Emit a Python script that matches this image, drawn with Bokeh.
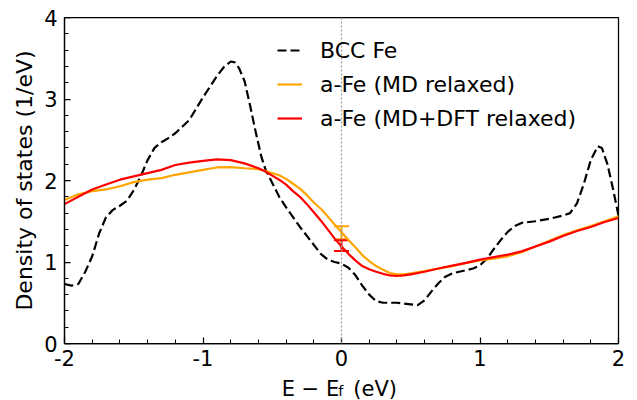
from bokeh.plotting import figure
from bokeh.layouts import column
from bokeh.models import (Range1d, FixedTicker, Span, Whisker, TeeHead,
                          ColumnDataSource, Legend, LegendItem)
from bokeh.core.properties import value
from bokeh.embed import file_html
from bokeh.resources import INLINE

# ---- data ----
bcc_x = [-2.0, -1.95, -1.90, -1.85, -1.80, -1.75, -1.70, -1.65, -1.60, -1.55, -1.50, -1.45,
         -1.40, -1.35, -1.30, -1.25, -1.20, -1.15, -1.10, -1.05, -1.00, -0.95, -0.90, -0.85,
         -0.80, -0.77, -0.74, -0.70, -0.66, -0.62, -0.58, -0.55, -0.50, -0.45, -0.40, -0.35,
         -0.30, -0.25, -0.20, -0.15, -0.10, -0.05, 0.00, 0.05, 0.10, 0.15, 0.20, 0.25, 0.30,
         0.40, 0.50, 0.55, 0.60, 0.65, 0.70, 0.75, 0.80, 0.90, 0.95, 1.00, 1.05, 1.10, 1.15,
         1.20, 1.25, 1.30, 1.40, 1.50, 1.60, 1.65, 1.70, 1.75, 1.80, 1.85, 1.88, 1.92, 1.96, 2.00]
bcc_y = [0.73, 0.71, 0.73, 0.88, 1.07, 1.35, 1.55, 1.64, 1.69, 1.75, 1.88, 2.05,
         2.25, 2.40, 2.47, 2.52, 2.58, 2.66, 2.74, 2.88, 3.02, 3.15, 3.28, 3.39,
         3.46, 3.45, 3.38, 3.22, 2.92, 2.60, 2.30, 2.14, 1.97, 1.80, 1.67, 1.55,
         1.43, 1.32, 1.21, 1.10, 1.03, 1.00, 0.98, 0.93, 0.84, 0.71, 0.60, 0.52, 0.50,
         0.50, 0.48, 0.47, 0.53, 0.64, 0.74, 0.82, 0.86, 0.90, 0.92, 0.96, 1.04, 1.16, 1.27,
         1.37, 1.44, 1.48, 1.50, 1.53, 1.57, 1.60, 1.72, 1.96, 2.25, 2.42, 2.40, 2.20, 1.90, 1.57]

amo_x = [-2.0, -1.9, -1.8, -1.7, -1.6, -1.5, -1.4, -1.3, -1.2, -1.1, -1.0, -0.9, -0.8, -0.7,
         -0.6, -0.55, -0.5, -0.45, -0.4, -0.35, -0.3, -0.25, -0.2, -0.15, -0.1, -0.05, 0.0,
         0.05, 0.1, 0.15, 0.2, 0.25, 0.3, 0.35, 0.4, 0.45, 0.5,
         0.6, 0.7, 0.8, 0.9, 1.0, 1.1, 1.2, 1.3, 1.4, 1.5, 1.6, 1.7, 1.8, 1.9, 2.0]
md_y = [1.76, 1.83, 1.87, 1.89, 1.93, 1.98, 2.01, 2.03, 2.07, 2.10, 2.13, 2.16, 2.165, 2.15,
        2.14, 2.12, 2.09, 2.065, 2.02, 1.96, 1.90, 1.82, 1.73, 1.653, 1.56, 1.46, 1.365,
        1.27, 1.18, 1.085, 1.01, 0.95, 0.905, 0.865, 0.848, 0.85, 0.86,
        0.89, 0.92, 0.95, 0.99, 1.02, 1.04, 1.07, 1.12, 1.19, 1.26, 1.33, 1.39, 1.44, 1.50, 1.56]
dft_y = [1.71, 1.80, 1.89, 1.95, 2.01, 2.05, 2.09, 2.13, 2.19, 2.22, 2.24, 2.26, 2.25, 2.21,
         2.15, 2.11, 2.06, 2.01, 1.95, 1.87, 1.80, 1.71, 1.61, 1.51, 1.40, 1.29, 1.19,
         1.10, 1.02, 0.95, 0.91, 0.88, 0.855, 0.835, 0.828, 0.835, 0.848,
         0.88, 0.92, 0.955, 0.99, 1.03, 1.06, 1.09, 1.13, 1.19, 1.25, 1.32, 1.38, 1.43, 1.49, 1.54]

err_x = [0.0]
md_err_center = [1.358]
md_err = [0.08]
dft_err_center = [1.20]
dft_err = [0.066]

x_ticks = [-2, -1, 0, 1, 2]
x_tick_labels = ["-2", "-1", "0", "1", "2"]
y_ticks = [0, 1, 2, 3, 4]
y_tick_labels = ["0", "1", "2", "3", "4"]
x_minor = [round(-2 + 0.2 * i, 2) for i in range(21)]
y_minor = [round(0.2 * i, 2) for i in range(21)]

series_names = ["BCC Fe", "a-Fe (MD relaxed)", "a-Fe (MD+DFT relaxed)"]
y_label = "Density of states (1/eV)"
x_label_parts = ["E \u2212 E", "f", "(eV)"]

FONT = "DejaVu Sans"
BORDERS = dict(min_border_left=64, min_border_right=19)

p = figure(width=637, height=375, output_backend="svg", toolbar_location=None,
           x_range=Range1d(-2, 2), y_range=Range1d(0, 4),
           min_border_top=17, min_border_bottom=32, **BORDERS)
p.background_fill_color = "white"
p.border_fill_color = "white"
p.xgrid.visible = False
p.ygrid.visible = False
p.outline_line_color = "black"
p.outline_line_width = 1.25

for ax, ticks, labels, minor in ((p.xaxis[0], x_ticks, x_tick_labels, x_minor),
                                 (p.yaxis[0], y_ticks, y_tick_labels, y_minor)):
    ax.ticker = FixedTicker(ticks=ticks, minor_ticks=minor)
    ax.major_label_overrides = {t: l for t, l in zip(ticks, labels)}
    ax.major_tick_in = 6
    ax.major_tick_out = 0
    ax.minor_tick_in = 4
    ax.minor_tick_out = 0
    ax.major_tick_line_width = 1.25
    ax.minor_tick_line_width = 1
    ax.axis_line_width = 1.25
    ax.major_label_text_font = FONT
    ax.major_label_text_font_size = "21px"
    ax.major_label_text_color = "black"
    ax.axis_line_color = "black"
    ax.major_tick_line_color = "black"
    ax.minor_tick_line_color = "black"
p.xaxis.major_label_standoff = 6
p.yaxis.major_label_standoff = 7
p.yaxis.axis_label = y_label
p.yaxis.axis_label_text_font = FONT
p.yaxis.axis_label_text_font_size = "22px"
p.yaxis.axis_label_text_font_style = "normal"
p.yaxis.axis_label_text_color = "black"
p.yaxis.axis_label_standoff = 4

# dotted Fermi level
p.add_layout(Span(location=0, dimension="height", line_color="#999999",
                  line_width=1.2, line_dash="2 2"))

r_bcc = p.line(bcc_x, bcc_y, line_color="black", line_width=2.2, line_dash="9 4")
r_md = p.line(amo_x, md_y, line_color="#FFA500", line_width=2.2)
r_dft = p.line(amo_x, dft_y, line_color="#FF0000", line_width=2.2)

for cen, err, col in ((md_err_center, md_err, "#FFA500"), (dft_err_center, dft_err, "#FF0000")):
    src = ColumnDataSource(dict(x=err_x,
                                lower=[c - e for c, e in zip(cen, err)],
                                upper=[c + e for c, e in zip(cen, err)]))
    w = Whisker(source=src, base="x", lower="lower", upper="upper",
                line_color=col, line_width=2,
                upper_head=TeeHead(size=15, line_color=col, line_width=2),
                lower_head=TeeHead(size=15, line_color=col, line_width=2))
    p.add_layout(w)

legend = Legend(items=[LegendItem(label=series_names[0], renderers=[r_bcc]),
                       LegendItem(label=series_names[1], renderers=[r_md]),
                       LegendItem(label=series_names[2], renderers=[r_dft])],
                location=(213, 212), border_line_alpha=0, background_fill_alpha=0,
                label_text_font=FONT, label_text_font_size="22px", label_text_color="black",
                glyph_width=25, glyph_height=26, label_height=26, label_standoff=18,
                padding=0, margin=0, spacing=8)
p.add_layout(legend, "center")

# x-axis label strip sharing the x range, so that the subscript f can be drawn
q = figure(width=637, height=25, output_backend="svg", toolbar_location=None,
           x_range=p.x_range, y_range=Range1d(0, 25),
           x_axis_type=None, y_axis_type=None, min_border_top=0, min_border_bottom=0,
           **BORDERS)
q.title = None
q.xgrid.visible = False
q.ygrid.visible = False
q.outline_line_color = None
q.background_fill_color = "white"
q.border_fill_color = "white"
q.text(x=[-0.432, 0.085], y=[12, 12], text=[x_label_parts[0], x_label_parts[2]],
       text_font=value(FONT), text_font_size="21px", text_align="left",
       text_baseline="alphabetic", text_color="black")
q.text(x=[-0.023], y=[10], text=[x_label_parts[1]],
       text_font=value(FONT), text_font_size="14.5px", text_align="left",
       text_baseline="alphabetic", text_color="black")

layout = column(p, q, spacing=0)
open("out.html", "w").write(file_html(layout, INLINE))
